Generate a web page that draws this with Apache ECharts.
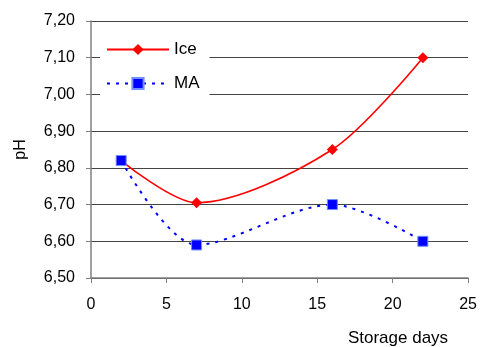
<!DOCTYPE html>
<html>
<head>
<meta charset="utf-8">
<script src="https://cdn.jsdelivr.net/npm/echarts@6/dist/echarts.min.js"></script>
<style>
  html, body { margin: 0; padding: 0; background: #fff; }
  #chart { width: 480px; height: 347px; }
</style>
</head>
<body>
<div id="chart"></div>
<script>
// Storage days and pH readings per treatment
const days = [2, 7, 16, 22];
const iceValues = [6.82, 6.705, 6.85, 7.10];
const maValues = [6.82, 6.59, 6.70, 6.60];
const seriesNames = ['Ice', 'MA'];

const pair = (xs, ys) => xs.map((x, i) => [x, ys[i]]);
const comma = v => v.toFixed(2).replace('.', ',');
const font = 'Liberation Sans, Arial, sans-serif';

const chart = echarts.init(document.getElementById('chart'), null, { renderer: 'canvas' });
chart.setOption({
  animation: false,
  backgroundColor: '#fff',
  grid: { left: 91, right: 10, top: 21, bottom: 69 },
  legend: {
    orient: 'vertical',
    left: 100,
    top: 37,
    itemWidth: 62,
    itemHeight: 14,
    itemGap: 17,
    backgroundColor: '#fff',
    padding: [4, 10, 8, 6],
    textStyle: { fontFamily: font, fontSize: 17, color: '#000' },
    data: seriesNames
  },
  xAxis: {
    type: 'value',
    min: 0, max: 25, interval: 5,
    name: 'Storage days',
    nameLocation: 'end',
    nameGap: 0,
    nameTextStyle: { fontFamily: font, fontSize: 17, color: '#000', align: 'right', verticalAlign: 'top', padding: [52, 20, 0, 0] },
    axisLine: { lineStyle: { color: '#808080', width: 1.5 } },
    axisTick: { show: true, inside: false, length: 5, lineStyle: { color: '#808080' } },
    axisLabel: { fontFamily: font, fontSize: 16, color: '#000', margin: 19 },
    splitLine: { show: false }
  },
  yAxis: {
    type: 'value',
    min: 6.5, max: 7.2, interval: 0.1,
    name: 'pH',
    nameLocation: 'middle',
    nameGap: 62,
    nameRotate: 90,
    nameTextStyle: { fontFamily: font, fontSize: 16, color: '#000' },
    axisLine: { show: true, lineStyle: { color: '#808080', width: 1.5 } },
    axisTick: { show: true, inside: false, length: 5, lineStyle: { color: '#808080' } },
    axisLabel: { fontFamily: font, fontSize: 16, color: '#000', margin: 16, formatter: comma },
    splitLine: { show: true, lineStyle: { color: '#444', width: 1 } }
  },
  series: [
    {
      name: seriesNames[0],
      type: 'line',
      data: pair(days, iceValues),
      smooth: 0.3,
      symbol: 'diamond',
      symbolSize: 11,
      itemStyle: { color: '#ff0000' },
      lineStyle: { color: '#ff0000', width: 1.6 },
      z: 2
    },
    {
      name: seriesNames[1],
      type: 'line',
      data: pair(days, maValues),
      smooth: 0.3,
      symbol: 'rect',
      symbolSize: 10,
      itemStyle: { color: '#0000ff', borderColor: '#6f8fff', borderWidth: 1 },
      lineStyle: { color: '#0000ff', width: 2, type: [3, 6] },
      z: 3
    }
  ]
});
</script>
</body>
</html>
